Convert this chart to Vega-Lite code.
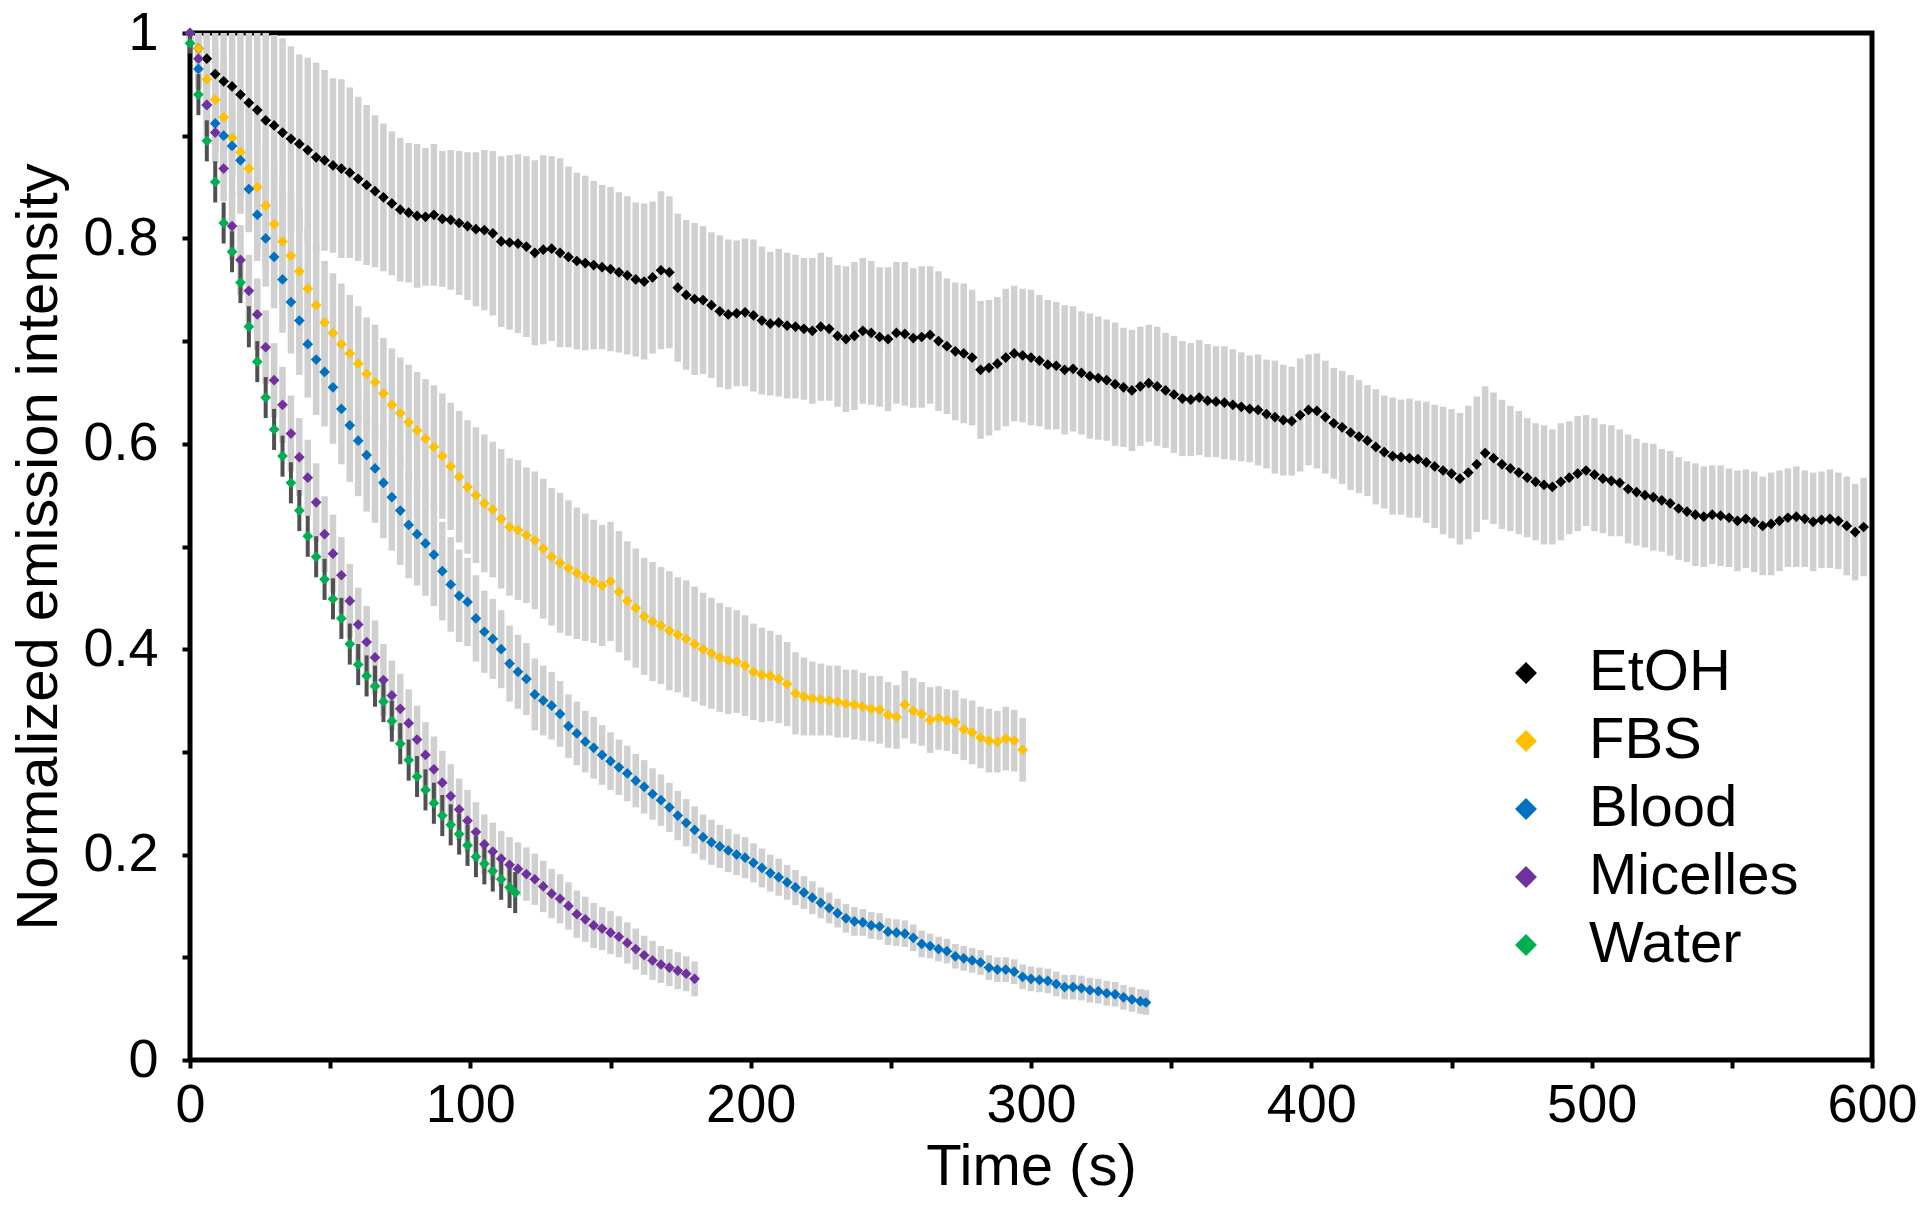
{
"$schema":"https://vega.github.io/schema/vega-lite/v6.json",
"width":1682,"height":1027,
"autosize":{"type":"none"},
"padding":{"left":190,"top":33,"right":48,"bottom":148},
"background":"white",
"config":{"view":{"stroke":"black","strokeWidth":5},"font":"Liberation Sans",
"axis":{"grid":false,"domain":false,"tickColor":"black","tickWidth":4,"tickSize":8,"labelColor":"black","titleColor":"black","labelFont":"Liberation Sans","titleFont":"Liberation Sans","titleFontWeight":"normal"}},
"datasets":{"d":[
{"s":"EtOH","t":0,"y":1.0,"e":0.01},{"s":"EtOH","t":3,"y":0.985,"e":0.04},{"s":"EtOH","t":6,"y":0.975,"e":0.06},{"s":"EtOH","t":9,"y":0.96,"e":0.075},{"s":"EtOH","t":12,"y":0.953,"e":0.08},{"s":"EtOH","t":15,"y":0.948,"e":0.085},{"s":"EtOH","t":18,"y":0.94,"e":0.088},{"s":"EtOH","t":21,"y":0.932,"e":0.09},{"s":"EtOH","t":24,"y":0.925,"e":0.086},{"s":"EtOH","t":27,"y":0.915,"e":0.09},
{"s":"EtOH","t":30,"y":0.91,"e":0.088},{"s":"EtOH","t":33,"y":0.903,"e":0.092},{"s":"EtOH","t":36,"y":0.897,"e":0.09},{"s":"EtOH","t":39,"y":0.892,"e":0.087},{"s":"EtOH","t":42,"y":0.886,"e":0.09},{"s":"EtOH","t":45,"y":0.879,"e":0.092},{"s":"EtOH","t":48,"y":0.876,"e":0.088},{"s":"EtOH","t":51,"y":0.871,"e":0.085},{"s":"EtOH","t":54,"y":0.868,"e":0.087},{"s":"EtOH","t":57,"y":0.864,"e":0.083},
{"s":"EtOH","t":60,"y":0.858,"e":0.08},{"s":"EtOH","t":63,"y":0.852,"e":0.078},{"s":"EtOH","t":66,"y":0.846,"e":0.074},{"s":"EtOH","t":69,"y":0.84,"e":0.072},{"s":"EtOH","t":72,"y":0.834,"e":0.07},{"s":"EtOH","t":75,"y":0.828,"e":0.07},{"s":"EtOH","t":78,"y":0.825,"e":0.068},{"s":"EtOH","t":81,"y":0.822,"e":0.07},{"s":"EtOH","t":84,"y":0.821,"e":0.067},{"s":"EtOH","t":87,"y":0.823,"e":0.069},
{"s":"EtOH","t":90,"y":0.819,"e":0.066},{"s":"EtOH","t":93,"y":0.818,"e":0.068},{"s":"EtOH","t":96,"y":0.815,"e":0.07},{"s":"EtOH","t":99,"y":0.812,"e":0.072},{"s":"EtOH","t":102,"y":0.809,"e":0.075},{"s":"EtOH","t":105,"y":0.808,"e":0.078},{"s":"EtOH","t":108,"y":0.805,"e":0.08},{"s":"EtOH","t":111,"y":0.797,"e":0.083},{"s":"EtOH","t":114,"y":0.796,"e":0.085},{"s":"EtOH","t":117,"y":0.795,"e":0.087},
{"s":"EtOH","t":120,"y":0.792,"e":0.088},{"s":"EtOH","t":123,"y":0.786,"e":0.09},{"s":"EtOH","t":126,"y":0.789,"e":0.092},{"s":"EtOH","t":129,"y":0.79,"e":0.09},{"s":"EtOH","t":132,"y":0.786,"e":0.092},{"s":"EtOH","t":135,"y":0.782,"e":0.088},{"s":"EtOH","t":138,"y":0.778,"e":0.086},{"s":"EtOH","t":141,"y":0.776,"e":0.085},{"s":"EtOH","t":144,"y":0.774,"e":0.082},{"s":"EtOH","t":147,"y":0.772,"e":0.08},
{"s":"EtOH","t":150,"y":0.77,"e":0.08},{"s":"EtOH","t":153,"y":0.767,"e":0.078},{"s":"EtOH","t":156,"y":0.764,"e":0.077},{"s":"EtOH","t":159,"y":0.76,"e":0.075},{"s":"EtOH","t":162,"y":0.758,"e":0.076},{"s":"EtOH","t":165,"y":0.762,"e":0.074},{"s":"EtOH","t":168,"y":0.769,"e":0.077},{"s":"EtOH","t":171,"y":0.767,"e":0.074},{"s":"EtOH","t":174,"y":0.752,"e":0.072},{"s":"EtOH","t":177,"y":0.745,"e":0.073},
{"s":"EtOH","t":180,"y":0.741,"e":0.074},{"s":"EtOH","t":183,"y":0.74,"e":0.072},{"s":"EtOH","t":186,"y":0.735,"e":0.071},{"s":"EtOH","t":189,"y":0.729,"e":0.074},{"s":"EtOH","t":192,"y":0.726,"e":0.073},{"s":"EtOH","t":195,"y":0.727,"e":0.071},{"s":"EtOH","t":198,"y":0.728,"e":0.072},{"s":"EtOH","t":201,"y":0.725,"e":0.074},{"s":"EtOH","t":204,"y":0.72,"e":0.072},{"s":"EtOH","t":207,"y":0.717,"e":0.07},
{"s":"EtOH","t":210,"y":0.718,"e":0.072},{"s":"EtOH","t":213,"y":0.715,"e":0.071},{"s":"EtOH","t":216,"y":0.714,"e":0.07},{"s":"EtOH","t":219,"y":0.712,"e":0.069},{"s":"EtOH","t":222,"y":0.71,"e":0.071},{"s":"EtOH","t":225,"y":0.714,"e":0.072},{"s":"EtOH","t":228,"y":0.712,"e":0.07},{"s":"EtOH","t":231,"y":0.705,"e":0.069},{"s":"EtOH","t":234,"y":0.702,"e":0.071},{"s":"EtOH","t":237,"y":0.705,"e":0.072},
{"s":"EtOH","t":240,"y":0.71,"e":0.071},{"s":"EtOH","t":243,"y":0.708,"e":0.07},{"s":"EtOH","t":246,"y":0.704,"e":0.068},{"s":"EtOH","t":249,"y":0.702,"e":0.07},{"s":"EtOH","t":252,"y":0.708,"e":0.069},{"s":"EtOH","t":255,"y":0.707,"e":0.07},{"s":"EtOH","t":258,"y":0.703,"e":0.068},{"s":"EtOH","t":261,"y":0.704,"e":0.069},{"s":"EtOH","t":264,"y":0.706,"e":0.067},{"s":"EtOH","t":267,"y":0.7,"e":0.068},
{"s":"EtOH","t":270,"y":0.695,"e":0.066},{"s":"EtOH","t":273,"y":0.69,"e":0.067},{"s":"EtOH","t":276,"y":0.688,"e":0.068},{"s":"EtOH","t":279,"y":0.684,"e":0.066},{"s":"EtOH","t":282,"y":0.672,"e":0.067},{"s":"EtOH","t":285,"y":0.674,"e":0.066},{"s":"EtOH","t":288,"y":0.678,"e":0.065},{"s":"EtOH","t":291,"y":0.684,"e":0.067},{"s":"EtOH","t":294,"y":0.688,"e":0.066},{"s":"EtOH","t":297,"y":0.686,"e":0.065},
{"s":"EtOH","t":300,"y":0.684,"e":0.066},{"s":"EtOH","t":303,"y":0.681,"e":0.064},{"s":"EtOH","t":306,"y":0.677,"e":0.063},{"s":"EtOH","t":309,"y":0.676,"e":0.062},{"s":"EtOH","t":312,"y":0.672,"e":0.063},{"s":"EtOH","t":315,"y":0.673,"e":0.061},{"s":"EtOH","t":318,"y":0.669,"e":0.06},{"s":"EtOH","t":321,"y":0.666,"e":0.061},{"s":"EtOH","t":324,"y":0.664,"e":0.06},{"s":"EtOH","t":327,"y":0.662,"e":0.059},
{"s":"EtOH","t":330,"y":0.658,"e":0.06},{"s":"EtOH","t":333,"y":0.655,"e":0.058},{"s":"EtOH","t":336,"y":0.652,"e":0.059},{"s":"EtOH","t":339,"y":0.656,"e":0.058},{"s":"EtOH","t":342,"y":0.659,"e":0.057},{"s":"EtOH","t":345,"y":0.656,"e":0.058},{"s":"EtOH","t":348,"y":0.652,"e":0.056},{"s":"EtOH","t":351,"y":0.648,"e":0.057},{"s":"EtOH","t":354,"y":0.644,"e":0.056},{"s":"EtOH","t":357,"y":0.643,"e":0.055},
{"s":"EtOH","t":360,"y":0.645,"e":0.056},{"s":"EtOH","t":363,"y":0.642,"e":0.055},{"s":"EtOH","t":366,"y":0.641,"e":0.054},{"s":"EtOH","t":369,"y":0.64,"e":0.055},{"s":"EtOH","t":372,"y":0.638,"e":0.054},{"s":"EtOH","t":375,"y":0.636,"e":0.053},{"s":"EtOH","t":378,"y":0.634,"e":0.052},{"s":"EtOH","t":381,"y":0.633,"e":0.054},{"s":"EtOH","t":384,"y":0.629,"e":0.053},{"s":"EtOH","t":387,"y":0.626,"e":0.055},
{"s":"EtOH","t":390,"y":0.623,"e":0.054},{"s":"EtOH","t":393,"y":0.622,"e":0.053},{"s":"EtOH","t":396,"y":0.628,"e":0.055},{"s":"EtOH","t":399,"y":0.633,"e":0.054},{"s":"EtOH","t":402,"y":0.632,"e":0.056},{"s":"EtOH","t":405,"y":0.626,"e":0.055},{"s":"EtOH","t":408,"y":0.62,"e":0.054},{"s":"EtOH","t":411,"y":0.616,"e":0.055},{"s":"EtOH","t":414,"y":0.611,"e":0.056},{"s":"EtOH","t":417,"y":0.607,"e":0.055},
{"s":"EtOH","t":420,"y":0.603,"e":0.054},{"s":"EtOH","t":423,"y":0.597,"e":0.056},{"s":"EtOH","t":426,"y":0.592,"e":0.055},{"s":"EtOH","t":429,"y":0.588,"e":0.057},{"s":"EtOH","t":432,"y":0.587,"e":0.056},{"s":"EtOH","t":435,"y":0.586,"e":0.058},{"s":"EtOH","t":438,"y":0.585,"e":0.057},{"s":"EtOH","t":441,"y":0.582,"e":0.059},{"s":"EtOH","t":444,"y":0.578,"e":0.06},{"s":"EtOH","t":447,"y":0.574,"e":0.062},
{"s":"EtOH","t":450,"y":0.571,"e":0.063},{"s":"EtOH","t":453,"y":0.566,"e":0.064},{"s":"EtOH","t":456,"y":0.572,"e":0.065},{"s":"EtOH","t":459,"y":0.58,"e":0.066},{"s":"EtOH","t":462,"y":0.591,"e":0.065},{"s":"EtOH","t":465,"y":0.586,"e":0.064},{"s":"EtOH","t":468,"y":0.58,"e":0.063},{"s":"EtOH","t":471,"y":0.576,"e":0.061},{"s":"EtOH","t":474,"y":0.572,"e":0.06},{"s":"EtOH","t":477,"y":0.567,"e":0.058},
{"s":"EtOH","t":480,"y":0.563,"e":0.057},{"s":"EtOH","t":483,"y":0.56,"e":0.058},{"s":"EtOH","t":486,"y":0.558,"e":0.056},{"s":"EtOH","t":489,"y":0.563,"e":0.057},{"s":"EtOH","t":492,"y":0.567,"e":0.055},{"s":"EtOH","t":495,"y":0.571,"e":0.056},{"s":"EtOH","t":498,"y":0.574,"e":0.054},{"s":"EtOH","t":501,"y":0.57,"e":0.055},{"s":"EtOH","t":504,"y":0.566,"e":0.053},{"s":"EtOH","t":507,"y":0.564,"e":0.054},
{"s":"EtOH","t":510,"y":0.562,"e":0.052},{"s":"EtOH","t":513,"y":0.556,"e":0.053},{"s":"EtOH","t":516,"y":0.553,"e":0.052},{"s":"EtOH","t":519,"y":0.55,"e":0.051},{"s":"EtOH","t":522,"y":0.548,"e":0.052},{"s":"EtOH","t":525,"y":0.545,"e":0.05},{"s":"EtOH","t":528,"y":0.542,"e":0.051},{"s":"EtOH","t":531,"y":0.537,"e":0.05},{"s":"EtOH","t":534,"y":0.534,"e":0.049},{"s":"EtOH","t":537,"y":0.531,"e":0.05},
{"s":"EtOH","t":540,"y":0.529,"e":0.049},{"s":"EtOH","t":543,"y":0.531,"e":0.048},{"s":"EtOH","t":546,"y":0.53,"e":0.049},{"s":"EtOH","t":549,"y":0.528,"e":0.048},{"s":"EtOH","t":552,"y":0.525,"e":0.049},{"s":"EtOH","t":555,"y":0.527,"e":0.048},{"s":"EtOH","t":558,"y":0.524,"e":0.049},{"s":"EtOH","t":561,"y":0.52,"e":0.048},{"s":"EtOH","t":564,"y":0.522,"e":0.05},{"s":"EtOH","t":567,"y":0.525,"e":0.049},
{"s":"EtOH","t":570,"y":0.528,"e":0.048},{"s":"EtOH","t":573,"y":0.529,"e":0.049},{"s":"EtOH","t":576,"y":0.527,"e":0.047},{"s":"EtOH","t":579,"y":0.524,"e":0.048},{"s":"EtOH","t":582,"y":0.526,"e":0.047},{"s":"EtOH","t":585,"y":0.527,"e":0.048},{"s":"EtOH","t":588,"y":0.525,"e":0.047},{"s":"EtOH","t":591,"y":0.52,"e":0.048},{"s":"EtOH","t":594,"y":0.514,"e":0.047},{"s":"EtOH","t":597,"y":0.519,"e":0.048},
{"s":"FBS","t":0,"y":1.0,"e":0.01},{"s":"FBS","t":3,"y":0.985,"e":0.03},{"s":"FBS","t":6,"y":0.955,"e":0.045},{"s":"FBS","t":9,"y":0.935,"e":0.05},{"s":"FBS","t":12,"y":0.918,"e":0.055},{"s":"FBS","t":15,"y":0.898,"e":0.058},{"s":"FBS","t":18,"y":0.884,"e":0.06},{"s":"FBS","t":21,"y":0.868,"e":0.062},{"s":"FBS","t":24,"y":0.85,"e":0.06},{"s":"FBS","t":27,"y":0.832,"e":0.061},
{"s":"FBS","t":30,"y":0.814,"e":0.06},{"s":"FBS","t":33,"y":0.797,"e":0.062},{"s":"FBS","t":36,"y":0.783,"e":0.06},{"s":"FBS","t":39,"y":0.768,"e":0.059},{"s":"FBS","t":42,"y":0.751,"e":0.06},{"s":"FBS","t":45,"y":0.735,"e":0.061},{"s":"FBS","t":48,"y":0.718,"e":0.06},{"s":"FBS","t":51,"y":0.708,"e":0.058},{"s":"FBS","t":54,"y":0.697,"e":0.059},{"s":"FBS","t":57,"y":0.688,"e":0.057},
{"s":"FBS","t":60,"y":0.678,"e":0.056},{"s":"FBS","t":63,"y":0.668,"e":0.055},{"s":"FBS","t":66,"y":0.66,"e":0.056},{"s":"FBS","t":69,"y":0.649,"e":0.054},{"s":"FBS","t":72,"y":0.638,"e":0.055},{"s":"FBS","t":75,"y":0.63,"e":0.054},{"s":"FBS","t":78,"y":0.621,"e":0.056},{"s":"FBS","t":81,"y":0.613,"e":0.057},{"s":"FBS","t":84,"y":0.605,"e":0.058},{"s":"FBS","t":87,"y":0.597,"e":0.06},
{"s":"FBS","t":90,"y":0.588,"e":0.061},{"s":"FBS","t":93,"y":0.578,"e":0.062},{"s":"FBS","t":96,"y":0.568,"e":0.064},{"s":"FBS","t":99,"y":0.558,"e":0.065},{"s":"FBS","t":102,"y":0.55,"e":0.066},{"s":"FBS","t":105,"y":0.542,"e":0.067},{"s":"FBS","t":108,"y":0.536,"e":0.066},{"s":"FBS","t":111,"y":0.527,"e":0.068},{"s":"FBS","t":114,"y":0.519,"e":0.067},{"s":"FBS","t":117,"y":0.516,"e":0.068},
{"s":"FBS","t":120,"y":0.511,"e":0.066},{"s":"FBS","t":123,"y":0.506,"e":0.067},{"s":"FBS","t":126,"y":0.498,"e":0.068},{"s":"FBS","t":129,"y":0.49,"e":0.067},{"s":"FBS","t":132,"y":0.484,"e":0.068},{"s":"FBS","t":135,"y":0.479,"e":0.066},{"s":"FBS","t":138,"y":0.474,"e":0.064},{"s":"FBS","t":141,"y":0.47,"e":0.062},{"s":"FBS","t":144,"y":0.466,"e":0.06},{"s":"FBS","t":147,"y":0.462,"e":0.059},
{"s":"FBS","t":150,"y":0.466,"e":0.058},{"s":"FBS","t":153,"y":0.456,"e":0.059},{"s":"FBS","t":156,"y":0.447,"e":0.058},{"s":"FBS","t":159,"y":0.44,"e":0.058},{"s":"FBS","t":162,"y":0.432,"e":0.057},{"s":"FBS","t":165,"y":0.427,"e":0.058},{"s":"FBS","t":168,"y":0.423,"e":0.057},{"s":"FBS","t":171,"y":0.418,"e":0.058},{"s":"FBS","t":174,"y":0.414,"e":0.056},{"s":"FBS","t":177,"y":0.41,"e":0.057},
{"s":"FBS","t":180,"y":0.405,"e":0.056},{"s":"FBS","t":183,"y":0.4,"e":0.055},{"s":"FBS","t":186,"y":0.396,"e":0.054},{"s":"FBS","t":189,"y":0.392,"e":0.053},{"s":"FBS","t":192,"y":0.389,"e":0.052},{"s":"FBS","t":195,"y":0.388,"e":0.05},{"s":"FBS","t":198,"y":0.384,"e":0.049},{"s":"FBS","t":201,"y":0.378,"e":0.047},{"s":"FBS","t":204,"y":0.375,"e":0.046},{"s":"FBS","t":207,"y":0.374,"e":0.044},
{"s":"FBS","t":210,"y":0.371,"e":0.043},{"s":"FBS","t":213,"y":0.366,"e":0.041},{"s":"FBS","t":216,"y":0.357,"e":0.04},{"s":"FBS","t":219,"y":0.354,"e":0.038},{"s":"FBS","t":222,"y":0.352,"e":0.036},{"s":"FBS","t":225,"y":0.351,"e":0.035},{"s":"FBS","t":228,"y":0.35,"e":0.034},{"s":"FBS","t":231,"y":0.349,"e":0.035},{"s":"FBS","t":234,"y":0.347,"e":0.033},{"s":"FBS","t":237,"y":0.346,"e":0.034},
{"s":"FBS","t":240,"y":0.344,"e":0.033},{"s":"FBS","t":243,"y":0.342,"e":0.032},{"s":"FBS","t":246,"y":0.341,"e":0.033},{"s":"FBS","t":249,"y":0.336,"e":0.032},{"s":"FBS","t":252,"y":0.334,"e":0.031},{"s":"FBS","t":255,"y":0.346,"e":0.033},{"s":"FBS","t":258,"y":0.34,"e":0.032},{"s":"FBS","t":261,"y":0.337,"e":0.031},{"s":"FBS","t":264,"y":0.331,"e":0.032},{"s":"FBS","t":267,"y":0.333,"e":0.031},
{"s":"FBS","t":270,"y":0.331,"e":0.03},{"s":"FBS","t":273,"y":0.329,"e":0.031},{"s":"FBS","t":276,"y":0.322,"e":0.03},{"s":"FBS","t":279,"y":0.319,"e":0.031},{"s":"FBS","t":282,"y":0.314,"e":0.03},{"s":"FBS","t":285,"y":0.311,"e":0.031},{"s":"FBS","t":288,"y":0.31,"e":0.03},{"s":"FBS","t":291,"y":0.313,"e":0.031},{"s":"FBS","t":294,"y":0.311,"e":0.03},{"s":"FBS","t":297,"y":0.302,"e":0.031},
{"s":"Blood","t":0,"y":1.0,"e":0.01},{"s":"Blood","t":3,"y":0.965,"e":0.02},{"s":"Blood","t":6,"y":0.93,"e":0.03},{"s":"Blood","t":9,"y":0.912,"e":0.03},{"s":"Blood","t":12,"y":0.9,"e":0.032},{"s":"Blood","t":15,"y":0.89,"e":0.033},{"s":"Blood","t":18,"y":0.876,"e":0.035},{"s":"Blood","t":21,"y":0.848,"e":0.04},{"s":"Blood","t":24,"y":0.823,"e":0.045},{"s":"Blood","t":27,"y":0.8,"e":0.047},
{"s":"Blood","t":30,"y":0.782,"e":0.05},{"s":"Blood","t":33,"y":0.76,"e":0.052},{"s":"Blood","t":36,"y":0.738,"e":0.05},{"s":"Blood","t":39,"y":0.72,"e":0.053},{"s":"Blood","t":42,"y":0.697,"e":0.052},{"s":"Blood","t":45,"y":0.682,"e":0.054},{"s":"Blood","t":48,"y":0.67,"e":0.053},{"s":"Blood","t":51,"y":0.655,"e":0.055},{"s":"Blood","t":54,"y":0.634,"e":0.054},{"s":"Blood","t":57,"y":0.618,"e":0.055},
{"s":"Blood","t":60,"y":0.603,"e":0.054},{"s":"Blood","t":63,"y":0.589,"e":0.055},{"s":"Blood","t":66,"y":0.576,"e":0.053},{"s":"Blood","t":69,"y":0.562,"e":0.054},{"s":"Blood","t":72,"y":0.548,"e":0.052},{"s":"Blood","t":75,"y":0.535,"e":0.053},{"s":"Blood","t":78,"y":0.521,"e":0.052},{"s":"Blood","t":81,"y":0.512,"e":0.05},{"s":"Blood","t":84,"y":0.503,"e":0.051},{"s":"Blood","t":87,"y":0.492,"e":0.05},
{"s":"Blood","t":90,"y":0.476,"e":0.048},{"s":"Blood","t":93,"y":0.463,"e":0.046},{"s":"Blood","t":96,"y":0.452,"e":0.045},{"s":"Blood","t":99,"y":0.446,"e":0.043},{"s":"Blood","t":102,"y":0.43,"e":0.042},{"s":"Blood","t":105,"y":0.417,"e":0.04},{"s":"Blood","t":108,"y":0.41,"e":0.039},{"s":"Blood","t":111,"y":0.4,"e":0.038},{"s":"Blood","t":114,"y":0.386,"e":0.037},{"s":"Blood","t":117,"y":0.378,"e":0.036},
{"s":"Blood","t":120,"y":0.371,"e":0.035},{"s":"Blood","t":123,"y":0.356,"e":0.035},{"s":"Blood","t":126,"y":0.35,"e":0.034},{"s":"Blood","t":129,"y":0.345,"e":0.033},{"s":"Blood","t":132,"y":0.337,"e":0.032},{"s":"Blood","t":135,"y":0.325,"e":0.031},{"s":"Blood","t":138,"y":0.318,"e":0.031},{"s":"Blood","t":141,"y":0.31,"e":0.03},{"s":"Blood","t":144,"y":0.304,"e":0.03},{"s":"Blood","t":147,"y":0.297,"e":0.029},
{"s":"Blood","t":150,"y":0.291,"e":0.028},{"s":"Blood","t":153,"y":0.285,"e":0.027},{"s":"Blood","t":156,"y":0.279,"e":0.027},{"s":"Blood","t":159,"y":0.272,"e":0.026},{"s":"Blood","t":162,"y":0.266,"e":0.026},{"s":"Blood","t":165,"y":0.259,"e":0.025},{"s":"Blood","t":168,"y":0.253,"e":0.025},{"s":"Blood","t":171,"y":0.246,"e":0.024},{"s":"Blood","t":174,"y":0.238,"e":0.024},{"s":"Blood","t":177,"y":0.231,"e":0.023},
{"s":"Blood","t":180,"y":0.224,"e":0.023},{"s":"Blood","t":183,"y":0.217,"e":0.022},{"s":"Blood","t":186,"y":0.212,"e":0.022},{"s":"Blood","t":189,"y":0.208,"e":0.021},{"s":"Blood","t":192,"y":0.204,"e":0.021},{"s":"Blood","t":195,"y":0.2,"e":0.02},{"s":"Blood","t":198,"y":0.197,"e":0.02},{"s":"Blood","t":201,"y":0.192,"e":0.019},{"s":"Blood","t":204,"y":0.187,"e":0.019},{"s":"Blood","t":207,"y":0.182,"e":0.018},
{"s":"Blood","t":210,"y":0.178,"e":0.018},{"s":"Blood","t":213,"y":0.173,"e":0.017},{"s":"Blood","t":216,"y":0.168,"e":0.017},{"s":"Blood","t":219,"y":0.163,"e":0.016},{"s":"Blood","t":222,"y":0.158,"e":0.016},{"s":"Blood","t":225,"y":0.153,"e":0.015},{"s":"Blood","t":228,"y":0.148,"e":0.015},{"s":"Blood","t":231,"y":0.143,"e":0.014},{"s":"Blood","t":234,"y":0.138,"e":0.014},{"s":"Blood","t":237,"y":0.135,"e":0.014},
{"s":"Blood","t":240,"y":0.134,"e":0.013},{"s":"Blood","t":243,"y":0.131,"e":0.013},{"s":"Blood","t":246,"y":0.13,"e":0.013},{"s":"Blood","t":249,"y":0.125,"e":0.013},{"s":"Blood","t":252,"y":0.124,"e":0.013},{"s":"Blood","t":255,"y":0.123,"e":0.013},{"s":"Blood","t":258,"y":0.119,"e":0.013},{"s":"Blood","t":261,"y":0.113,"e":0.013},{"s":"Blood","t":264,"y":0.111,"e":0.012},{"s":"Blood","t":267,"y":0.108,"e":0.012},
{"s":"Blood","t":270,"y":0.106,"e":0.012},{"s":"Blood","t":273,"y":0.101,"e":0.012},{"s":"Blood","t":276,"y":0.099,"e":0.012},{"s":"Blood","t":279,"y":0.097,"e":0.012},{"s":"Blood","t":282,"y":0.095,"e":0.012},{"s":"Blood","t":285,"y":0.09,"e":0.012},{"s":"Blood","t":288,"y":0.088,"e":0.012},{"s":"Blood","t":291,"y":0.088,"e":0.012},{"s":"Blood","t":294,"y":0.086,"e":0.012},{"s":"Blood","t":297,"y":0.081,"e":0.012},
{"s":"Blood","t":300,"y":0.079,"e":0.012},{"s":"Blood","t":303,"y":0.078,"e":0.012},{"s":"Blood","t":306,"y":0.077,"e":0.012},{"s":"Blood","t":309,"y":0.074,"e":0.012},{"s":"Blood","t":312,"y":0.071,"e":0.012},{"s":"Blood","t":315,"y":0.071,"e":0.012},{"s":"Blood","t":318,"y":0.07,"e":0.012},{"s":"Blood","t":321,"y":0.068,"e":0.012},{"s":"Blood","t":324,"y":0.067,"e":0.012},{"s":"Blood","t":327,"y":0.065,"e":0.012},
{"s":"Blood","t":330,"y":0.064,"e":0.012},{"s":"Blood","t":333,"y":0.061,"e":0.012},{"s":"Blood","t":336,"y":0.059,"e":0.012},{"s":"Blood","t":339,"y":0.057,"e":0.012},{"s":"Blood","t":341,"y":0.056,"e":0.012},
{"s":"Micelles","t":0,"y":1.0,"e":0.01},{"s":"Micelles","t":3,"y":0.975,"e":0.02},{"s":"Micelles","t":6,"y":0.93,"e":0.03},{"s":"Micelles","t":9,"y":0.903,"e":0.03},{"s":"Micelles","t":12,"y":0.868,"e":0.032},{"s":"Micelles","t":15,"y":0.812,"e":0.033},{"s":"Micelles","t":18,"y":0.779,"e":0.034},{"s":"Micelles","t":21,"y":0.749,"e":0.035},{"s":"Micelles","t":24,"y":0.726,"e":0.035},{"s":"Micelles","t":27,"y":0.694,"e":0.036},
{"s":"Micelles","t":30,"y":0.662,"e":0.036},{"s":"Micelles","t":33,"y":0.638,"e":0.037},{"s":"Micelles","t":36,"y":0.61,"e":0.037},{"s":"Micelles","t":39,"y":0.587,"e":0.038},{"s":"Micelles","t":42,"y":0.567,"e":0.037},{"s":"Micelles","t":45,"y":0.543,"e":0.038},{"s":"Micelles","t":48,"y":0.512,"e":0.037},{"s":"Micelles","t":51,"y":0.493,"e":0.038},{"s":"Micelles","t":54,"y":0.472,"e":0.037},{"s":"Micelles","t":57,"y":0.447,"e":0.036},
{"s":"Micelles","t":60,"y":0.424,"e":0.036},{"s":"Micelles","t":63,"y":0.407,"e":0.035},{"s":"Micelles","t":66,"y":0.392,"e":0.036},{"s":"Micelles","t":69,"y":0.37,"e":0.035},{"s":"Micelles","t":72,"y":0.355,"e":0.034},{"s":"Micelles","t":75,"y":0.342,"e":0.034},{"s":"Micelles","t":78,"y":0.328,"e":0.033},{"s":"Micelles","t":81,"y":0.312,"e":0.033},{"s":"Micelles","t":84,"y":0.297,"e":0.032},{"s":"Micelles","t":87,"y":0.283,"e":0.032},
{"s":"Micelles","t":90,"y":0.27,"e":0.031},{"s":"Micelles","t":93,"y":0.257,"e":0.031},{"s":"Micelles","t":96,"y":0.244,"e":0.03},{"s":"Micelles","t":99,"y":0.233,"e":0.03},{"s":"Micelles","t":102,"y":0.222,"e":0.029},{"s":"Micelles","t":105,"y":0.21,"e":0.029},{"s":"Micelles","t":108,"y":0.203,"e":0.028},{"s":"Micelles","t":111,"y":0.196,"e":0.027},{"s":"Micelles","t":114,"y":0.19,"e":0.027},{"s":"Micelles","t":117,"y":0.186,"e":0.026},
{"s":"Micelles","t":120,"y":0.181,"e":0.026},{"s":"Micelles","t":123,"y":0.176,"e":0.025},{"s":"Micelles","t":126,"y":0.169,"e":0.025},{"s":"Micelles","t":129,"y":0.162,"e":0.024},{"s":"Micelles","t":132,"y":0.157,"e":0.024},{"s":"Micelles","t":135,"y":0.15,"e":0.023},{"s":"Micelles","t":138,"y":0.142,"e":0.023},{"s":"Micelles","t":141,"y":0.137,"e":0.022},{"s":"Micelles","t":144,"y":0.131,"e":0.022},{"s":"Micelles","t":147,"y":0.128,"e":0.021},
{"s":"Micelles","t":150,"y":0.124,"e":0.021},{"s":"Micelles","t":153,"y":0.12,"e":0.02},{"s":"Micelles","t":156,"y":0.114,"e":0.02},{"s":"Micelles","t":159,"y":0.108,"e":0.02},{"s":"Micelles","t":162,"y":0.102,"e":0.019},{"s":"Micelles","t":165,"y":0.097,"e":0.019},{"s":"Micelles","t":168,"y":0.093,"e":0.018},{"s":"Micelles","t":171,"y":0.09,"e":0.018},{"s":"Micelles","t":174,"y":0.087,"e":0.018},{"s":"Micelles","t":177,"y":0.084,"e":0.017},
{"s":"Micelles","t":180,"y":0.079,"e":0.017},
{"s":"Water","t":0,"y":0.99,"e":0.01},{"s":"Water","t":3,"y":0.94,"e":0.02},{"s":"Water","t":6,"y":0.895,"e":0.02},{"s":"Water","t":9,"y":0.855,"e":0.02},{"s":"Water","t":12,"y":0.815,"e":0.02},{"s":"Water","t":15,"y":0.787,"e":0.02},{"s":"Water","t":18,"y":0.757,"e":0.02},{"s":"Water","t":21,"y":0.714,"e":0.02},{"s":"Water","t":24,"y":0.68,"e":0.02},{"s":"Water","t":27,"y":0.645,"e":0.02},
{"s":"Water","t":30,"y":0.614,"e":0.02},{"s":"Water","t":33,"y":0.588,"e":0.02},{"s":"Water","t":36,"y":0.562,"e":0.02},{"s":"Water","t":39,"y":0.535,"e":0.02},{"s":"Water","t":42,"y":0.51,"e":0.02},{"s":"Water","t":45,"y":0.49,"e":0.02},{"s":"Water","t":48,"y":0.468,"e":0.02},{"s":"Water","t":51,"y":0.449,"e":0.02},{"s":"Water","t":54,"y":0.43,"e":0.02},{"s":"Water","t":57,"y":0.405,"e":0.02},
{"s":"Water","t":60,"y":0.385,"e":0.02},{"s":"Water","t":63,"y":0.374,"e":0.02},{"s":"Water","t":66,"y":0.364,"e":0.02},{"s":"Water","t":69,"y":0.349,"e":0.02},{"s":"Water","t":72,"y":0.33,"e":0.02},{"s":"Water","t":75,"y":0.308,"e":0.02},{"s":"Water","t":78,"y":0.292,"e":0.02},{"s":"Water","t":81,"y":0.276,"e":0.02},{"s":"Water","t":84,"y":0.263,"e":0.02},{"s":"Water","t":87,"y":0.25,"e":0.02},
{"s":"Water","t":90,"y":0.238,"e":0.02},{"s":"Water","t":93,"y":0.229,"e":0.02},{"s":"Water","t":96,"y":0.22,"e":0.02},{"s":"Water","t":99,"y":0.209,"e":0.02},{"s":"Water","t":102,"y":0.198,"e":0.02},{"s":"Water","t":105,"y":0.191,"e":0.02},{"s":"Water","t":108,"y":0.184,"e":0.02},{"s":"Water","t":111,"y":0.176,"e":0.02},{"s":"Water","t":114,"y":0.168,"e":0.02},{"s":"Water","t":116,"y":0.163,"e":0.02}
]},
"data":{"name":"d"},
"encoding":{
"x":{"field":"t","type":"quantitative","scale":{"domain":[0,600],"nice":false,"clamp":true},
 "axis":{"title":"Time (s)","values":[0,50,100,150,200,250,300,350,400,450,500,550,600],"labelExpr":"datum.value % 100 === 0 ? datum.label : ''","format":"d","labelFontSize":54,"titleFontSize":58,"labelPadding":10,"titlePadding":6,"labelFlush":false}},
"y":{"field":"y","type":"quantitative","scale":{"domain":[0,1],"nice":false,"clamp":true},
 "axis":{"title":"Normalized emission intensity","values":[0,0.1,0.2,0.3,0.4,0.5,0.6,0.7,0.8,0.9,1],"labelExpr":"round(datum.value*10) % 2 === 0 ? format(datum.value, '.1~f') : ''","labelFontSize":54,"titleFontSize":58,"labelPadding":24,"titlePadding":14,"labelFlush":false}}
},
"layer":[
{"transform":[{"filter":"datum.s !== 'Water'"}],
 "mark":{"type":"errorbar","ticks":false,"color":"#d0d0d0","rule":{"strokeWidth":6.5}},
 "encoding":{"yError":{"field":"e"}}},
{"transform":[{"filter":"datum.s === 'Water'"}],
 "mark":{"type":"errorbar","ticks":false,"color":"#505050","rule":{"strokeWidth":4}},
 "encoding":{"yError":{"field":"e"}}},
{"mark":{"type":"point","shape":"diamond","filled":true,"size":115,"opacity":1,"strokeWidth":0},
 "encoding":{"color":{"field":"s","type":"nominal",
  "scale":{"domain":["EtOH","FBS","Blood","Micelles","Water"],"range":["#000000","#FFC000","#0070C0","#7030A0","#00B050"]},
  "legend":{"orient":"none","legendX":1307,"legendY":611,"title":null,"labelFontSize":58,"labelLimit":0,"labelColor":"black","symbolType":"diamond","symbolSize":480,"symbolStrokeWidth":0,"symbolOpacity":1,"rowPadding":10,"labelOffset":34,"padding":0}}}}
]
}
